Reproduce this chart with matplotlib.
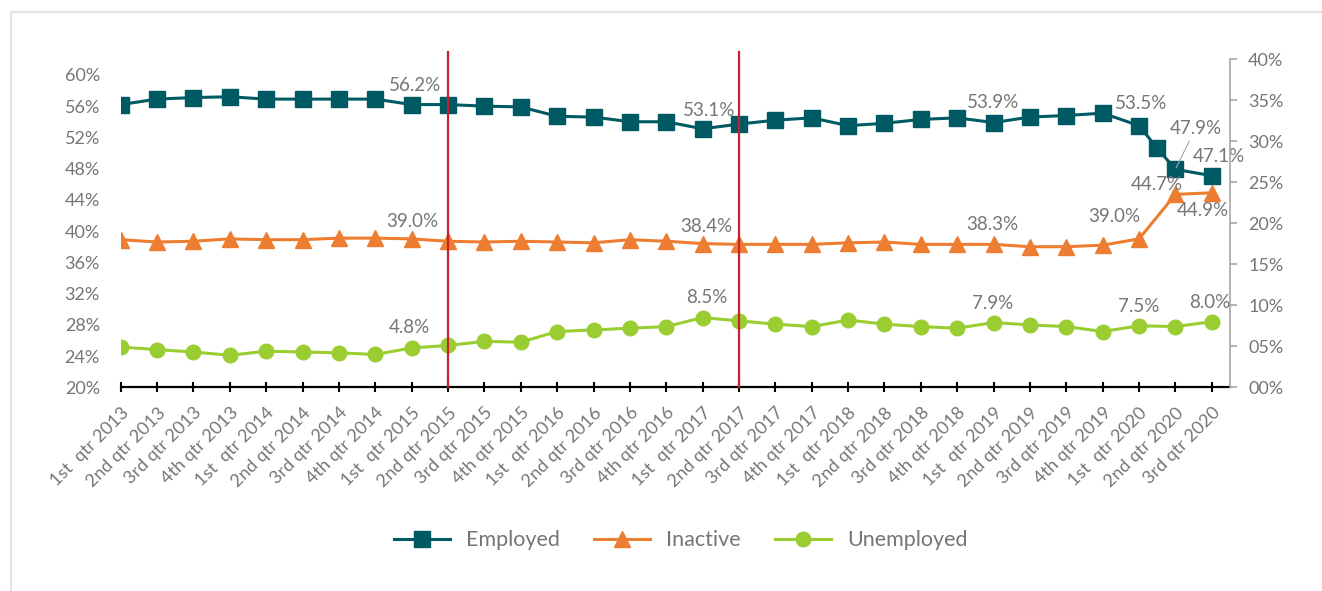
import numpy as np
import matplotlib.pyplot as plt
from matplotlib.patches import Rectangle

plt.rcParams['font.family'] = ['Lato', 'DejaVu Sans']

quarters = ['1st  qtr', '2nd qtr', '3rd qtr', '4th qtr']
labels = [f'{q} {y}' for y in range(2013, 2021) for q in quarters][:31]

# employment shares by quarter (%); one extra reading between Q1 and Q2 2020
emp_x = list(range(29)) + [28.5, 29, 30]
employed = [56.2, 56.9, 57.1, 57.2, 56.9, 56.9, 56.9, 56.9, 56.2, 56.2,
            56.0, 55.9, 54.7, 54.6, 54.0, 54.0, 53.1, 53.7, 54.2, 54.5,
            53.5, 53.8, 54.3, 54.5, 53.9, 54.6, 54.8, 55.1, 53.5,
            50.6, 47.9, 47.1]
inactive = [38.9, 38.6, 38.7, 39.0, 38.9, 38.9, 39.1, 39.1, 39.0, 38.7,
            38.6, 38.7, 38.6, 38.5, 38.9, 38.7, 38.4, 38.3, 38.3, 38.3,
            38.5, 38.6, 38.3, 38.3, 38.3, 38.0, 38.0, 38.2, 39.0, 44.7, 44.9]
unemployed = [4.9, 4.6, 4.3, 3.9, 4.4, 4.3, 4.2, 4.0, 4.8, 5.1,
              5.6, 5.5, 6.8, 7.0, 7.2, 7.4, 8.5, 8.1, 7.7, 7.4,
              8.2, 7.7, 7.4, 7.2, 7.9, 7.6, 7.4, 6.8, 7.5, 7.4, 8.0]
marker_q = [9, 17]  # 2nd qtr 2015, 2nd qtr 2017

c_emp = '#005A64'
c_ina = '#ED7D31'
c_une = '#9ACD32'
c_red = '#C8202F'
c_txt = '#767676'

fig = plt.figure(figsize=(13.22, 5.91), dpi=100)
ax = fig.add_axes([0.0913, 0.3447, 0.8391, 0.555])
ax2 = ax.twinx()

x = np.arange(len(labels))
ax.plot(emp_x, employed, color=c_emp, lw=2.2, marker='s', ms=11, label='Employed')
ax.plot(x, inactive, color=c_ina, lw=2.2, marker='^', ms=12, label='Inactive')
ax2.plot(x, unemployed, color=c_une, lw=2.2, marker='o', ms=10.5, label='Unemployed')

for q in marker_q:
    ax2.axvline(q, ymin=0, ymax=1.023, color=c_red, lw=1.6, zorder=5, clip_on=False)

ax.set_xlim(0, 30.5)
ax.set_ylim(20, 62)
ax2.set_ylim(0, 40)

ax.set_yticks(range(20, 61, 4))
ax.set_yticklabels([f'{v}%' for v in range(20, 61, 4)])
ax2.set_yticks(range(0, 41, 5))
ax2.set_yticklabels([f'{v:02d}%' for v in range(0, 41, 5)])

ax.set_xticks(x)
ax.set_xticklabels(labels, rotation=45, ha='right', va='top', rotation_mode='anchor')

for a in (ax, ax2):
    for s in ('top', 'left'):
        a.spines[s].set_visible(False)
ax.spines['right'].set_visible(False)
ax2.spines['bottom'].set_visible(False)
ax.spines['bottom'].set_color('black')
ax.spines['bottom'].set_linewidth(1.6)
ax2.spines['right'].set_color('#A6A6A6')
ax2.spines['right'].set_linewidth(1.2)

ax.tick_params(axis='x', direction='inout', length=7, width=1.5, color='black',
               pad=9, labelsize=13, labelcolor=c_txt)
ax.tick_params(axis='y', length=0, pad=15, labelsize=13, labelcolor=c_txt)
ax2.tick_params(axis='y', direction='out', length=5, width=1.2, color='#A6A6A6',
                pad=8, labelsize=13, labelcolor=c_txt)

# data labels: (axis, x, value, dx px, dy px)
notes = [
    (ax, 8, 56.2, 3, 19), (ax, 16, 53.1, 6, 18), (ax, 24, 53.9, -1, 20),
    (ax, 28, 53.5, 2, 22), (ax, 30, 47.1, 7, 19),
    (ax, 8, 39.0, 1, 17), (ax, 16, 38.4, 4, 17), (ax, 24, 38.3, -1, 20),
    (ax, 28, 39.0, -25, 22), (ax, 29, 44.7, -19, 10), (ax, 30, 44.9, -9, -18),
    (ax2, 8, 4.8, -2, 20), (ax2, 16, 8.5, 4, 20), (ax2, 24, 7.9, -1, 19),
    (ax2, 28, 7.5, 0, 19), (ax2, 30, 8.0, -2, 19),
]
for a, xi, v, dx, dy in notes:
    a.annotate(f'{v:.1f}%', (xi, v), xytext=(dx, dy), textcoords='offset pixels',
               ha='center', va='center', fontsize=13.5, color=c_txt, zorder=6)

ax.annotate('47.9%', (29, 47.9), xytext=(20, 41), textcoords='offset pixels',
            ha='center', va='center', fontsize=13.5, color=c_txt,
            arrowprops=dict(arrowstyle='-', color='#A6A6A6', lw=0.8,
                            shrinkA=1, shrinkB=1))

h1, l1 = ax.get_legend_handles_labels()
h2, l2 = ax2.get_legend_handles_labels()
fig.legend(h1 + h2, l1 + l2, loc='center', bbox_to_anchor=(0.515, 0.086), ncol=3,
           frameon=False, fontsize=15.5, labelcolor=c_txt, handlelength=2.6,
           handletextpad=0.75, columnspacing=1.6)

fig.add_artist(Rectangle((11 / 1322, -0.05), 1.1, 1.05 - 12 / 591, transform=fig.transFigure,
                         fill=False, edgecolor='#E4E4E4', lw=1.6))

fig.savefig('out.png', dpi=100)
